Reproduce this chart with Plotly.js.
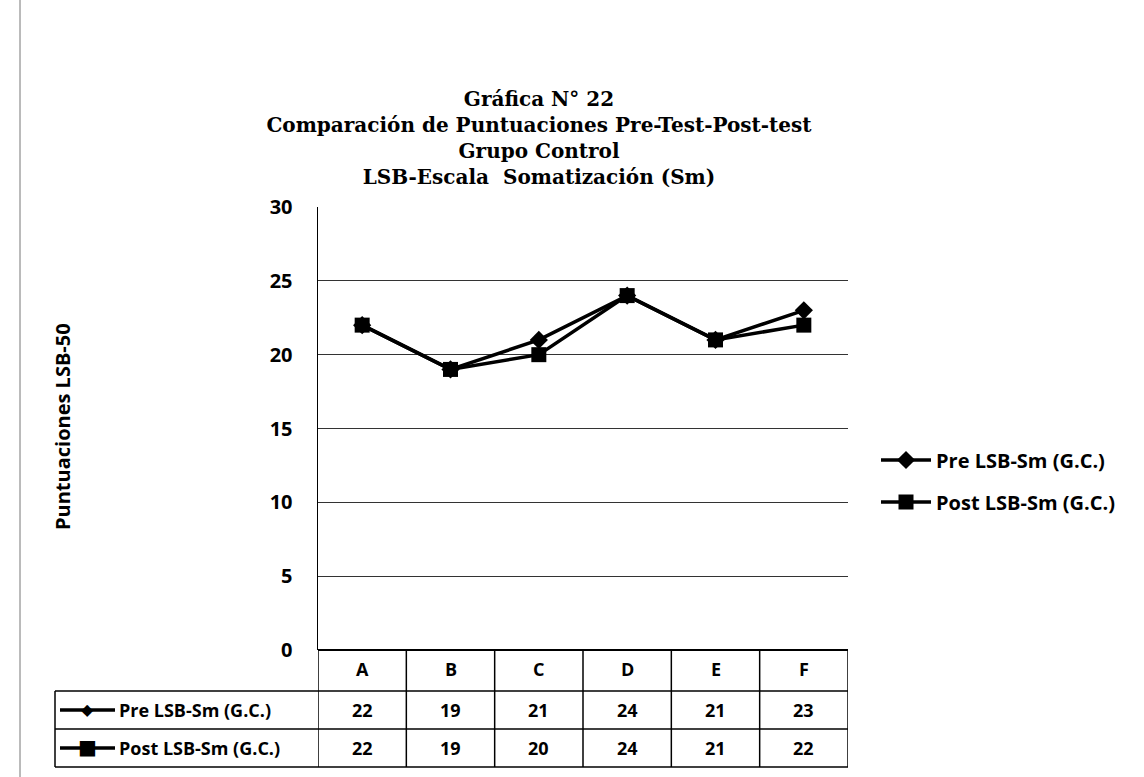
<!DOCTYPE html>
<html>
<head>
<meta charset="utf-8">
<script src="https://cdn.plot.ly/plotly-3.0.1.min.js"></script>
<style>html,body{margin:0;padding:0;background:#fff;}#chart{width:1144px;height:777px;}</style>
</head>
<body>
<div id="chart"></div>
<script>
const categories = ['A', 'B', 'C', 'D', 'E', 'F'];
const preValues = [22, 19, 21, 24, 21, 23];
const postValues = [22, 19, 20, 24, 21, 22];
const seriesNames = ['Pre LSB-Sm (G.C.)', 'Post LSB-Sm (G.C.)'];
const yTickValues = [0, 5, 10, 15, 20, 25, 30];
const titleLines = ['Gráfica N° 22', 'Comparación de Puntuaciones Pre-Test-Post-test', 'Grupo Control', 'LSB-Escala  Somatización (Sm)'];
const yAxisTitle = 'Puntuaciones LSB-50';

// plot area in pixels
const L = 318, R = 848, T = 207, B = 650;
const W = R - L, H = B - T;
const px = x => (x - L) / W;
const py = y => (B - y) / H;

const sans = 'Open Sans';
const tableFont = {family: sans, size: 18, color: '#000', weight: 'bold'};

const traces = [
  {x: categories, y: preValues, name: seriesNames[0], type: 'scatter', mode: 'lines+markers',
   line: {color: '#000', width: 3.5}, marker: {symbol: 'diamond', size: 14, color: '#000'}, legend: 'legend'},
  {x: categories, y: postValues, name: seriesNames[1], type: 'scatter', mode: 'lines+markers',
   line: {color: '#000', width: 3.5}, marker: {symbol: 'square', size: 15, color: '#000'}, legend: 'legend2'}
];

const shapes = [];
const annotations = [];

// page edge line
shapes.push({type: 'line', xref: 'paper', yref: 'paper', x0: px(20), x1: px(20), y0: py(0), y1: py(777),
  line: {color: '#777', width: 1}});

// table geometry (pixels)
const rowLines = [650, 691, 729, 767];
const tableLeft = 55;
[rowLines[1], rowLines[2], rowLines[3]].forEach(yy => {
  shapes.push({type: 'line', xref: 'paper', yref: 'paper', x0: px(tableLeft), x1: 1, y0: py(yy), y1: py(yy),
    line: {color: '#000', width: 1.5}});
});
shapes.push({type: 'line', xref: 'paper', yref: 'paper', x0: px(tableLeft), x1: px(tableLeft), y0: py(rowLines[1]), y1: py(rowLines[3]),
  line: {color: '#000', width: 1.5}});
for (let i = 0; i <= categories.length; i++) {
  shapes.push({type: 'line', xref: 'x', yref: 'paper', x0: i - 0.5, x1: i - 0.5, y0: 0, y1: py(rowLines[3]),
    line: {color: '#000', width: 1.5}});
}
// header
categories.forEach((c, i) => {
  annotations.push({text: '<b>' + c + '</b>', xref: 'x', yref: 'paper', x: i, y: py(669),
    xanchor: 'center', yanchor: 'middle', showarrow: false, font: tableFont});
});
// value rows
[preValues, postValues].forEach((vals, r) => {
  const ycPx = (rowLines[r + 1] + rowLines[r + 2]) / 2;
  const yc = py(ycPx);
  vals.forEach((v, i) => {
    annotations.push({text: '<b>' + v + '</b>', xref: 'x', yref: 'paper', x: i, y: yc,
      xanchor: 'center', yanchor: 'middle', showarrow: false, font: tableFont});
  });
  shapes.push({type: 'line', xref: 'paper', yref: 'paper', x0: px(60), x1: px(115), y0: yc, y1: yc,
    line: {color: '#000', width: 3.5}});
  annotations.push({text: r === 0 ? '◆' : '■', xref: 'paper', yref: 'paper', x: px(87), y: py(ycPx - 1),
    xanchor: 'center', yanchor: 'middle', showarrow: false,
    font: {family: 'DejaVu Sans', size: r === 0 ? 16 : 20, color: '#000'}});
  annotations.push({text: '<b>' + seriesNames[r] + '</b>', xref: 'paper', yref: 'paper', x: px(117), y: yc,
    xanchor: 'left', yanchor: 'middle', showarrow: false, font: tableFont});
});

// y axis title
annotations.push({text: '<b>' + yAxisTitle + '</b>', xref: 'paper', yref: 'paper', x: px(62), y: py(427),
  xanchor: 'center', yanchor: 'middle',
  textangle: -90, showarrow: false, font: {family: sans, size: 20, color: '#000'}});

const legendFont = {family: sans, size: 20, color: '#000', weight: 'bold'};
const layout = {
  width: 1144, height: 777,
  margin: {l: L, r: 1144 - R, t: T, b: 777 - B},
  paper_bgcolor: '#fff', plot_bgcolor: '#fff',
  title: {text: titleLines.map(t => '<b>' + t + '</b>').join('<br>'),
    font: {family: 'DejaVu Serif', size: 20, color: '#000'},
    x: 539 / 1144, xanchor: 'center', xref: 'container',
    y: 1 - 106 / 777, yanchor: 'top', yref: 'container'},
  showlegend: true,
  xaxis: {type: 'category', range: [-0.5, categories.length - 0.5], showticklabels: false,
    showgrid: false, zeroline: false, showline: false, ticks: ''},
  yaxis: {range: [0, 30], tickvals: yTickValues, showgrid: true, gridcolor: '#333', gridwidth: 1.2,
    zeroline: true, zerolinecolor: '#000', zerolinewidth: 1.5,
    showline: true, linecolor: '#000', linewidth: 1.5, ticks: '', ticklabelstandoff: 20,
    tickfont: {family: sans, size: 20, color: '#000', weight: 'bold'}},
  legend: {x: px(876), y: py(460), xanchor: 'left', yanchor: 'middle', bgcolor: 'rgba(0,0,0,0)',
    font: legendFont, itemwidth: 50},
  legend2: {x: px(876), y: py(502), xanchor: 'left', yanchor: 'middle', bgcolor: 'rgba(0,0,0,0)',
    font: legendFont, itemwidth: 50},
  shapes: shapes,
  annotations: annotations
};

Plotly.newPlot('chart', traces, layout, {displayModeBar: false, staticPlot: true});
</script>
</body>
</html>
